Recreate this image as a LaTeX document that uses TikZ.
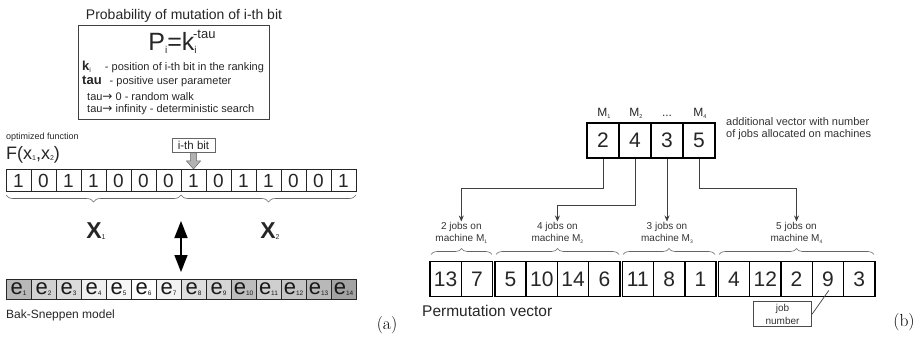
\documentclass[tikz,border=0pt]{standalone}
\usepackage{fontspec}
\newfontfamily\arialf{Liberation Sans}
\newfontfamily\dejavu{DejaVu Sans}
\usetikzlibrary{decorations.pathreplacing,arrows.meta}
\newcommand\fsz[1]{\fontsize{#1}{#1}\selectfont}
\newcommand\sbs[2][7]{\raisebox{-1.5pt}{\fsz{#1}#2}}
\begin{document}
\begin{tikzpicture}[x=1pt,y=-1pt,
  every node/.style={font=\arialf, text=black!85},
  bitcell/.style={draw=black!85, line width=0.7pt, minimum width=25pt, minimum height=22.4pt, inner sep=0pt, font=\arialf\fsz{19}},
  ecell/.style={draw=black!85, line width=0.7pt, minimum width=25pt, minimum height=20pt, inner sep=0pt, text=black!90},
  pcell/.style={draw=black, line width=1.4pt, minimum width=31.3pt, minimum height=35pt, inner sep=0pt, font=\arialf\fsz{21}},
  tcell/.style={draw=black, line width=1.4pt, minimum width=32pt, minimum height=35pt, inner sep=0pt, font=\arialf\fsz{21}},
  conn/.style={draw=black!75, line width=0.7pt},
  downtip/.style={-{Stealth[length=6pt,width=5pt]}},
  gbrace/.style={draw=black!60, line width=0.6pt, decorate, decoration={brace,amplitude=6pt}},
  lbl/.style={font=\arialf\fontsize{10}{12.5}\selectfont, align=center, inner sep=0.5pt, text=black!80},
  txt/.style={font=\arialf\fsz{11}, inner sep=0pt, anchor=base west},
]
\useasboundingbox (0,0) rectangle (921,342);

% ---------------- (a) extremal optimisation ----------------
\node[anchor=base, inner sep=0pt, font=\arialf\fsz{14}] (title) at (184,19.5) {Probability of mutation of i-th bit};
\node[draw=black!75, line width=0.6pt, minimum width=191pt, minimum height=94pt] (pbox) at (173.5,72) {};
\node[anchor=base, inner sep=0pt] (form) at (182,51)
  {\fsz{25}P\raisebox{-3pt}{\fsz{10}i}=k\raisebox{-3pt}{\fsz{10}i}\kern-3.5pt\raisebox{12pt}{\fsz{13}-tau}};
\node[txt] (kline) at (82,71) {{\bfseries\fsz{13}k}\raisebox{-2pt}{\fsz{7}i}\hspace{14pt}- position of i-th bit in the ranking};
\node[txt] (tline) at (82,85) {{\bfseries\fsz{13}tau}\hspace{8pt}- positive user parameter};
\node[txt] (walk) at (87,101) {tau{\dejavu\fsz{12}→} 0 - random walk};
\node[txt] (det) at (87,113) {tau{\dejavu\fsz{12}→} infinity - deterministic search};

\node[anchor=base west, inner sep=0pt, font=\arialf\fsz{9}] (optf) at (6,140) {optimized function};
\node[anchor=base west, inner sep=0pt, font=\arialf\fsz{18}] (fx) at (6,159.5) {F(x\sbs{1},x\sbs{2})};

\node[draw=black!60, line width=0.5pt, minimum width=43pt, minimum height=14pt, inner sep=0pt, font=\arialf\fsz{11.5}] (ibit) at (193.5,145.5) {i-th bit};
\draw[draw=black!60, fill=black!30, line width=0.5pt]
  (190.5,153) -- (196.5,153) -- (196.5,161) -- (200.5,161) -- (193.5,169) -- (186.5,161) -- (190.5,161) -- cycle;

\foreach \b [count=\i] in {1,0,1,1,0,0,0,1,0,1,1,0,0,1}
  \node[bitcell] (b\i) at ({6+25*(\i-0.5)},180.5) {\b};

\draw[gbrace, decoration={brace,mirror,amplitude=7pt}] (6,195) -- (181,195);
\draw[gbrace, decoration={brace,mirror,amplitude=7pt}] (181,195) -- (356,195);
\node[anchor=base, inner sep=0pt] (xa) at (96,238) {{\bfseries\fsz{23}X}\sbs{1}};
\node[anchor=base, inner sep=0pt] (xb) at (270,238) {{\bfseries\fsz{23}X}\sbs{2}};

\coordinate (dtop) at (181,221);
\coordinate (dbot) at (181,272);
\draw[line width=1.6pt, {Triangle[length=17pt,width=13pt]}-{Triangle[length=17pt,width=13pt]}] (dtop) -- (dbot);

\foreach \g [count=\i] in {72,82,86,94,97,100,95,87,84,74,81,77,72,64}
  \node[ecell, fill=white!\g!black] (e\i) at ({6+25*(\i-0.5)},289.3) {{\fsz{22}e}\raisebox{-0.5pt}{\fsz{6.5}\i}};

\node[anchor=base west, inner sep=0pt, font=\arialf\fsz{12}] (bs) at (6,318.5) {Bak-Sneppen model};
\node[font=\fsz{17.5}, text=black] (la) at (387,325) {(a)};

% ---------------- (b) permutation encoding ----------------
\foreach \n/\x [count=\i] in {2/603,4/635,3/667,5/699}
  \node[tcell] (t\i) at (\x,140.5) {\n};
\node[anchor=base, inner sep=0pt, font=\arialf\fsz{12}] (m1) at (604,117) {M\sbs[5.5]{1}};
\node[anchor=base, inner sep=0pt, font=\arialf\fsz{12}] (m2) at (636,117) {M\sbs[5.5]{2}};
\node[anchor=base, inner sep=0pt, font=\arialf\fsz{12}] (m3) at (667,117) {...};
\node[anchor=base, inner sep=0pt, font=\arialf\fsz{12}] (m4) at (700,117) {M\sbs[5.5]{4}};
\node[anchor=base west, inner sep=0pt, align=left, font=\arialf\fontsize{11}{12.5}\selectfont, text=black!80] (addv) at (726,138)
  {additional vector with number\\of jobs allocated on machines};

\foreach \n/\x [count=\i] in {13/445.65,7/476.95,5/510.45,10/541.75,14/573.05,6/604.35,11/637.85,8/669.15,1/700.45,4/733.95,12/765.25,2/796.55,9/827.85,3/859.15}
  \node[pcell] (p\i) at (\x,279.2) {\n};

\node[lbl, anchor=north] (lab1) at (461.3,221.5) {2 jobs on\\machine M\sbs[5]{1}};
\node[lbl, anchor=north] (lab2) at (557.4,221.5) {4 jobs on\\machine M\sbs[5]{2}};
\node[lbl, anchor=north] (lab3) at (667,221.5) {3 jobs on\\machine M\sbs[5]{3}};
\node[lbl, anchor=north] (lab4) at (796.5,221.5) {5 jobs on\\machine M\sbs[5]{4}};

\coordinate (lvl1) at (0,188);
\coordinate (lvl2) at (0,205);
\draw[conn, downtip] (t1.south) -- (t1.south |- lvl1) -| (lab1.north);
\draw[conn, downtip] (t2.south) -- (t2.south |- lvl2) -| (lab2.north);
\draw[conn, downtip] (t3.south) -- (lab3.north);
\draw[conn, downtip] (t4.south) -- (t4.south |- lvl1) -| (lab4.north);

\draw[gbrace] (431,254.5) -- (492,254.5);
\draw[gbrace] (496,254.5) -- (619,254.5);
\draw[gbrace] (623,254.5) -- (715,254.5);
\draw[gbrace] (719,254.5) -- (874,254.5);

\node[anchor=base west, inner sep=0pt, font=\arialf\fsz{15.5}] (perm) at (422,316.5) {Permutation vector};
\node[draw=black!70, line width=0.6pt, minimum width=58.5pt, minimum height=25pt, lbl, inner sep=0pt] (jobbox) at (782.5,314.2) {job\\number};
\draw[conn] (jobbox.east) -- ([shift={(1pt,7pt)}]p13.south);
\node[font=\fsz{17.5}, text=black] (lb) at (904,322) {(b)};
\end{tikzpicture}
\end{document}
